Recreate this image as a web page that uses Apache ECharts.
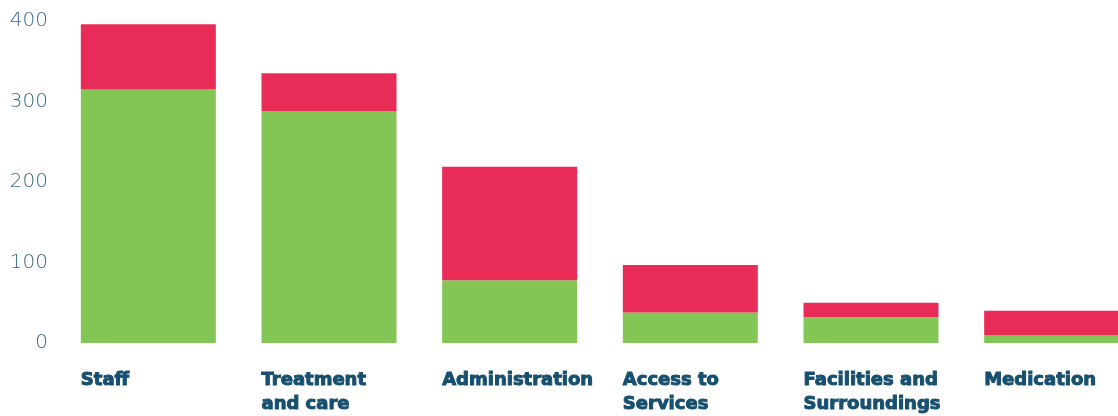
<!DOCTYPE html>
<html>
<head>
<meta charset="utf-8">
<script src="https://cdn.jsdelivr.net/npm/echarts@6/dist/echarts.min.js"></script>
<style>
html,body{margin:0;padding:0;background:#fff;}
#chart{width:1118px;height:416px;}
</style>
</head>
<body>
<div id="chart"></div>
<script>
const categories = ['Staff', 'Treatment\nand care', 'Administration', 'Access to\nServices', 'Facilities and\nSurroundings', 'Medication'];
const greenValues = [315, 288, 78, 38, 32, 10];
const redValues = [81, 47, 141, 59, 18, 30];
const yTicks = [0, 100, 200, 300, 400];

const chart = echarts.init(document.getElementById('chart'), null, {renderer: 'canvas'});
chart.setOption({
  animation: false,
  grid: {left: 58, width: 1084, top: 21, bottom: 73, containLabel: false, outerBoundsMode: 'none'},
  xAxis: {
    type: 'category',
    data: categories,
    axisLine: {show: false},
    axisTick: {show: false},
    axisLabel: {
      margin: 25,
      interval: 0,
      formatter: function (v) {
        return v.split('\n').map(function (s) { return '{a|' + s + '}'; }).join('\n');
      },
      rich: {
        a: {
          width: 135,
          align: 'left',
          fontFamily: 'DejaVu Sans',
          fontWeight: 'bold',
          fontSize: 18,
          lineHeight: 24,
          color: '#17506e',
          textBorderColor: '#17506e',
          textBorderWidth: 1
        }
      }
    }
  },
  yAxis: {
    type: 'value',
    min: yTicks[0],
    max: yTicks[yTicks.length - 1],
    interval: 100,
    splitLine: {show: false},
    axisLine: {show: false},
    axisTick: {show: false},
    axisLabel: {
      margin: 10,
      fontFamily: 'DejaVu Sans',
      fontWeight: 200,
      fontSize: 20,
      color: '#3a6a87'
    }
  },
  series: [
    {
      type: 'bar',
      stack: 'total',
      data: greenValues,
      barWidth: 135,
      itemStyle: {color: '#84c656'}
    },
    {
      type: 'bar',
      stack: 'total',
      data: redValues,
      barWidth: 135,
      itemStyle: {color: '#e82c57'}
    }
  ]
});
</script>
</body>
</html>
